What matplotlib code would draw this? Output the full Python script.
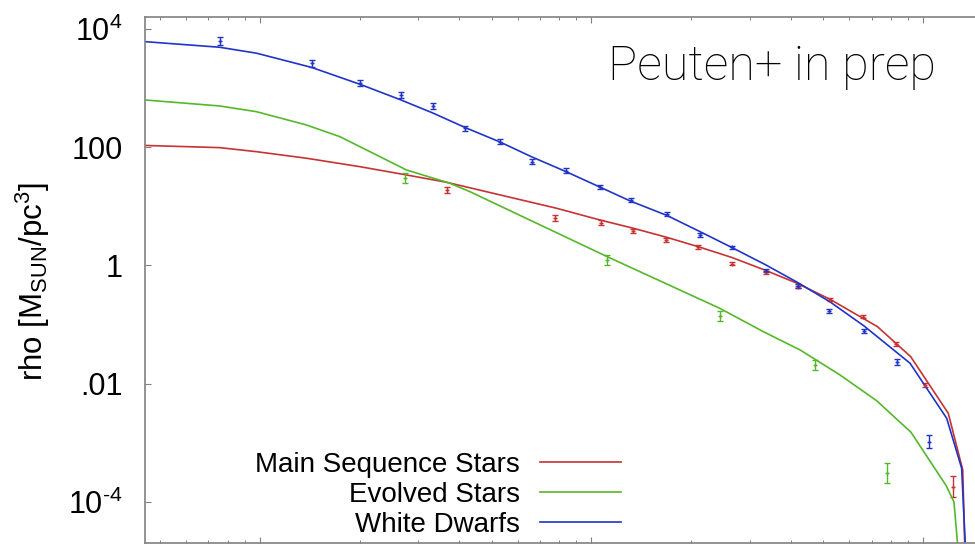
import matplotlib
matplotlib.use("Agg")
import matplotlib.pyplot as plt
import numpy as np
from matplotlib.ticker import FixedLocator, FixedFormatter, LogLocator, NullFormatter

plt.rcParams["font.family"] = ["Liberation Sans", "DejaVu Sans"]
plt.rcParams["mathtext.fontset"] = "custom"
plt.rcParams["mathtext.rm"] = "Liberation Sans"

# measured profiles (x in arbitrary radius units, y = rho)
ms_x = [0.367, 0.776, 1.068, 1.331, 1.674, 2.10, 2.648, 3.36, 4.19, 5.24, 6.60, 8.29, 10.14, 12.34]
ms_y = [19.2, 6.45, 5.31, 3.84, 2.70, 2.06, 1.06, 0.774, 0.432, 0.2606, 0.1358, 0.0463, 0.00946, 1.795e-4]
ms_err = [0.05, 0.05, 0.04, 0.035, 0.035, 0.03, 0.025, 0.025, 0.025, 0.025, 0.025, 0.03, 0.04, 0.18]

ev_x = [0.275, 1.116, 2.45, 4.72, 7.80]
ev_y = [30.0, 1.24, 0.1385, 0.02065, 3.10e-4]
ev_err = [0.08, 0.09, 0.08, 0.08, 0.17]

wd_x = [0.0761, 0.144, 0.201, 0.266, 0.333, 0.416, 0.530, 0.663, 0.836, 1.061,
        1.315, 1.686, 2.123, 2.648, 3.36, 4.19, 5.22, 6.64, 8.33, 10.43]
wd_y = [6410, 2656, 1218, 763, 502, 210.6, 124.9, 57.3, 40.3, 21.1,
        12.86, 7.45, 3.285, 2.018, 0.817, 0.450, 0.1696, 0.0778, 0.0235, 0.001038]
wd_err = [0.07, 0.06, 0.05, 0.05, 0.05, 0.045, 0.04, 0.04, 0.04, 0.035,
          0.035, 0.035, 0.035, 0.03, 0.03, 0.03, 0.035, 0.04, 0.05, 0.11]

# model curves
ms_model_x = [0.045, 0.0757, 0.0977, 0.1384, 0.2003, 0.277, 0.366, 0.785, 1.06, 1.337, 1.686,
              2.10, 2.648, 3.36, 4.17, 5.24, 7.29, 9.18, 11.92, 13.18, 13.55]
ms_model_y = [107.7, 98.9, 84.5, 65.4, 47.1, 34.1, 25.6, 9.31, 5.90, 4.27, 3.00,
              2.08, 1.37, 0.822, 0.500, 0.268, 0.0920, 0.0286, 0.00314, 3.44e-4, 1e-6]

ev_model_x = [0.045, 0.0757, 0.0977, 0.1384, 0.1743, 0.2197, 0.277, 0.3743, 0.430, 1.116,
              2.44, 3.30, 4.26, 5.62, 7.25, 9.20, 11.76, 12.40, 13.3]
ev_model_y = [635, 502, 402, 239, 152, 79.5, 41.4, 24.7, 17.8, 1.41,
              0.188, 0.0757, 0.0371, 0.0140, 0.00512, 0.00150, 1.85e-4, 9.9e-5, 1e-6]

wd_model_x = [0.045, 0.0757, 0.0979, 0.1435, 0.2013, 0.2643, 0.3325, 0.416, 0.530, 0.662, 0.837, 1.06,
              1.31, 1.69, 2.12, 2.65, 3.36, 4.21, 5.25, 6.64, 9.14, 11.79, 13.08, 13.75]
wd_model_y = [6166, 4955, 3924, 2254, 1161, 647, 382, 217, 123.4, 68.8, 39.0, 21.3,
              12.35, 7.03, 3.77, 2.02, 1.02, 0.506, 0.241, 0.0946, 0.0221, 0.00258, 3.68e-4, 1e-6]

labels = ["Main Sequence Stars", "Evolved Stars", "White Dwarfs"]
colors = ["#c83232", "#55b82a", "#2034c8"]

ytick_vals = [1e-4, 1e-2, 1, 1e2, 1e4]
ytick_labs = ["10$^{\\mathregular{\u20104}}$", ".01", "1", "100", r"10$^{\mathregular{4}}$"]


def err_dex(y, e):
    y = np.asarray(y); e = np.asarray(e)
    return [y - y * 10 ** (-e), y * 10 ** e - y]


fig = plt.figure(figsize=(9.75, 5.44), dpi=100)
ax = fig.add_axes([145 / 975, 1.3 / 544, 830 / 975, 526 / 544])

for (mx, my), (px, py, pe), c, lab in zip(
        [(ms_model_x, ms_model_y), (ev_model_x, ev_model_y), (wd_model_x, wd_model_y)],
        [(ms_x, ms_y, ms_err), (ev_x, ev_y, ev_err), (wd_x, wd_y, wd_err)],
        colors, labels):
    ax.plot(mx, my, color=c, lw=1.2, label=lab)
    ax.errorbar(px, py, yerr=err_dex(py, pe), fmt="+", ms=3, color=c,
                elinewidth=1.0, capsize=2.2, capthick=1.0, mew=1.0)

ax.set_xscale("log")
ax.set_yscale("log")
ax.set_xlim(0.0451, 14.35)
ax.set_ylim(2.02e-5, 16300)

ax.yaxis.set_major_locator(FixedLocator(ytick_vals))
ax.yaxis.set_major_formatter(FixedFormatter(ytick_labs))
ax.yaxis.set_minor_locator(FixedLocator([]))
ax.xaxis.set_major_locator(LogLocator(base=10))
ax.xaxis.set_minor_locator(LogLocator(base=10, subs=np.arange(2, 10)))
ax.xaxis.set_major_formatter(NullFormatter())
ax.xaxis.set_minor_formatter(NullFormatter())

ax.tick_params(axis="both", which="major", direction="in", length=4, width=0.8,
               color="#808080", labelsize=22, pad=16, top=True)
ax.tick_params(axis="x", which="minor", direction="in", length=2.5, width=0.7,
               color="#808080", top=True)
for s in ["left", "top", "bottom"]:
    ax.spines[s].set_color("#808080")
    ax.spines[s].set_linewidth(1.2)
ax.spines["right"].set_visible(False)

fig.text(33 / 975, 1 - 281 / 544,
         r"rho [M$_{\mathregular{SUN}}$/pc$^{\mathregular{3}}$]",
         rotation=90, ha="center", va="center", fontsize=22.5)

ax.text(608 / 975, 1 - 80 / 544, "Peuten+ in prep", transform=fig.transFigure,
        fontsize=35, family=["Roboto", "DejaVu Sans"], fontweight="light",
        color="black", ha="left", va="baseline")

leg = ax.legend(markerfirst=False, frameon=False, fontsize=20, handlelength=2.9,
                handletextpad=0.75, labelspacing=0.15, borderpad=0, borderaxespad=0,
                loc="lower right", bbox_to_anchor=(621 / 975, 1 - 538 / 544),
                bbox_transform=fig.transFigure)

fig.savefig("out.png", dpi=100)
